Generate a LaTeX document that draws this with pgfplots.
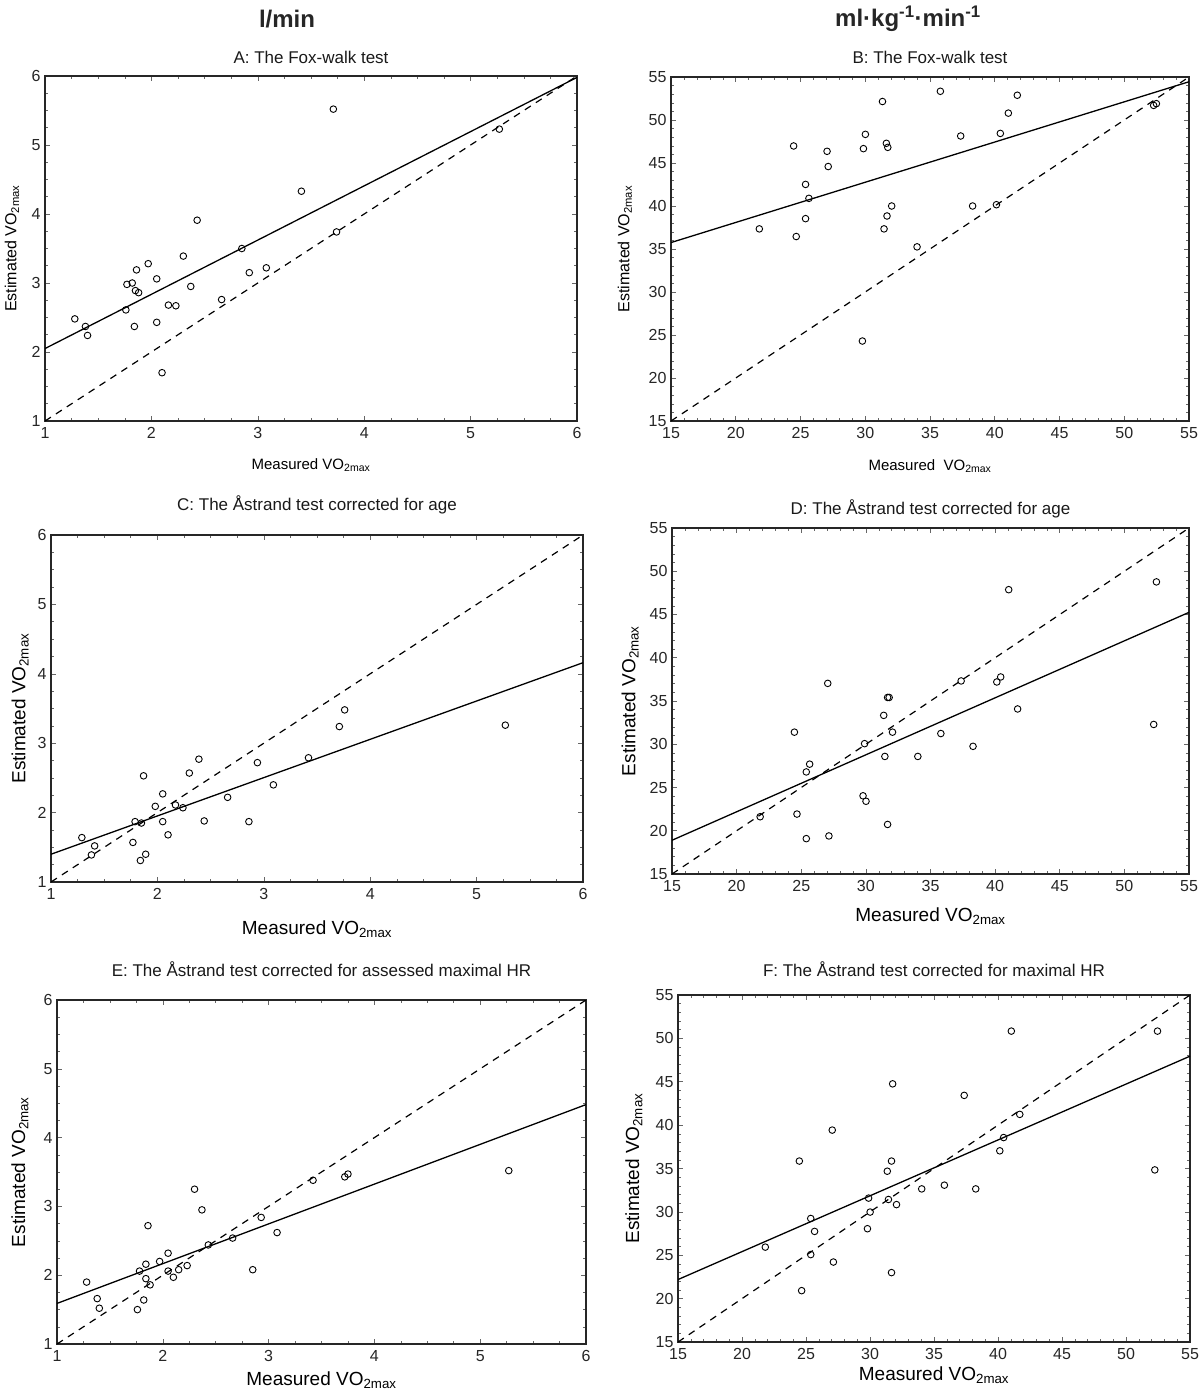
\documentclass[border=0pt]{standalone}
\usepackage{fontspec}
\setmainfont{Liberation Sans}
\usepackage{pgfplots}
\pgfplotsset{compat=1.18}
\pgfplotsset{
  base/.style={
    scale only axis,
    axis line style={line width=1.2pt, black!85},
    tick align=inside,
    major tick length=5pt,
    minor tick length=3pt,
    tick style={black!60, line width=0.6pt},
    tick label style={font=\fontsize{16}{18}\selectfont, text=black!85},
    xticklabel style={yshift=-3pt},
    yticklabel style={xshift=-1pt},
    /pgf/number format/assume math mode=true,
    title style={font=\fontsize{17}{20}\selectfont, text=black!90},
    ylabel style={anchor=center},
    xlabel style={anchor=center},
    clip=true,
  },
  lmin/.style={base, xmin=1,xmax=6,ymin=1,ymax=6, xtick={1,...,6}, ytick={1,...,6}, minor tick num=3},
  mlkg/.style={base, xmin=15,xmax=55,ymin=15,ymax=55, xtick={15,20,...,55}, ytick={15,20,...,55}, minor tick num=4},
  pts/.style={only marks, mark=o, mark size=3.3pt, mark options={line width=0.9pt, black}},
  reg/.style={black, line width=1.3pt, no marks},
  ident/.style={black, line width=1.2pt, dash pattern=on 7pt off 6pt, no marks},
}
\begin{document}
\begin{tikzpicture}
\path[use as bounding box] (0pt,0pt) rectangle (1200pt,-1390pt);
\node[font=\bfseries\fontsize{24}{28}\selectfont, text=black!85] at (287pt,-19pt) {l/min};
\node[font=\bfseries\fontsize{24}{28}\selectfont, text=black!85] at (908pt,-19pt) {ml·kg\textsuperscript{-1}·min\textsuperscript{-1}};

% A
\begin{axis}[lmin, at={(45pt,-76pt)}, anchor=north west, width=532pt, height=345pt,
  title={A: The Fox-walk test}, title style={at={(axis description cs:0.5,1.009)}},
  xlabel={Measured VO\textsubscript{2max}}, xlabel style={at={(axis description cs:0.5,-0.1275)}, font=\fontsize{15}{18}\selectfont},
  ylabel={Estimated VO\textsubscript{2max}}, ylabel style={at={(axis description cs:-0.062,0.5)}, font=\fontsize{16}{18}\selectfont}]
\addplot[ident] coordinates {(1,1) (6,6)};
\addplot[reg] coordinates {(1,2.05) (6,5.98)};
\addplot[pts] coordinates {(1.28,2.48) (1.38,2.37) (1.40,2.24) (1.76,2.61) (1.77,2.98) (1.82,3.00) (1.86,3.19) (1.85,2.89) (1.88,2.86) (1.84,2.37) (1.97,3.28) (2.05,3.06) (2.05,2.43) (2.10,1.70) (2.16,2.68) (2.23,2.67) (2.30,3.39) (2.37,2.95) (2.43,3.91) (2.66,2.76) (2.85,3.50) (2.92,3.15) (3.08,3.22) (3.41,4.33) (3.71,5.52) (3.74,3.74) (5.27,5.23)};
\end{axis}

% B
\begin{axis}[mlkg, at={(671pt,-77pt)}, anchor=north west, width=518pt, height=344pt,
  title={B: The Fox-walk test}, title style={at={(axis description cs:0.5,1.012)}},
  xlabel={Measured\ \ VO\textsubscript{2max}}, xlabel style={at={(axis description cs:0.5,-0.131)}, font=\fontsize{15}{18}\selectfont},
  ylabel={Estimated VO\textsubscript{2max}}, ylabel style={at={(axis description cs:-0.089,0.5)}, font=\fontsize{16}{18}\selectfont}]
\addplot[ident] coordinates {(15,15) (55,55)};
\addplot[reg] coordinates {(15,35.75) (55,54.45)};
\addplot[pts] coordinates {(21.82,37.34) (24.47,46.98) (24.67,36.45) (25.39,42.51) (25.65,40.89) (25.39,38.53) (27.05,46.36) (27.14,44.59) (29.86,46.67) (30.01,48.33) (29.78,24.30) (31.33,52.15) (31.63,47.29) (31.74,46.82) (31.68,38.84) (31.45,37.34) (32.04,40.0) (34.0,35.25) (35.8,53.34) (37.37,48.14) (38.29,40.0) (40.13,40.15) (40.43,48.44) (41.05,50.80) (41.74,52.88) (52.27,51.7) (52.48,51.9)};
\end{axis}

% C
\begin{axis}[lmin, at={(51pt,-535pt)}, anchor=north west, width=532pt, height=347pt,
  title={C: The Åstrand test corrected for age}, title style={at={(axis description cs:0.5,1.032)}},
  xlabel={Measured VO\textsubscript{2max}}, xlabel style={at={(axis description cs:0.5,-0.135)}, font=\fontsize{19}{22}\selectfont},
  ylabel={Estimated VO\textsubscript{2max}}, ylabel style={at={(axis description cs:-0.058,0.5)}, font=\fontsize{19}{22}\selectfont}]
\addplot[ident] coordinates {(1,1) (6,6)};
\addplot[reg] coordinates {(1,1.40) (6,4.16)};
\addplot[pts] coordinates {(1.29,1.64) (1.38,1.39) (1.41,1.52) (1.77,1.57) (1.79,1.87) (1.84,1.31) (1.85,1.85) (1.87,2.53) (1.89,1.40) (1.98,2.09) (2.05,1.87) (2.05,2.27) (2.10,1.68) (2.17,2.11) (2.24,2.07) (2.30,2.57) (2.39,2.77) (2.44,1.88) (2.66,2.22) (2.86,1.87) (2.94,2.72) (3.09,2.40) (3.42,2.79) (3.71,3.24) (3.76,3.48) (5.27,3.26)};
\end{axis}

% D
\begin{axis}[mlkg, at={(672pt,-528pt)}, anchor=north west, width=517pt, height=346pt,
  title={D: The Åstrand test corrected for age}, title style={at={(axis description cs:0.5,1.0)}},
  xlabel={Measured VO\textsubscript{2max}}, xlabel style={at={(axis description cs:0.5,-0.121)}, font=\fontsize{19}{22}\selectfont},
  ylabel={Estimated VO\textsubscript{2max}}, ylabel style={at={(axis description cs:-0.081,0.5)}, font=\fontsize{19}{22}\selectfont}]
\addplot[ident] coordinates {(15,15) (55,55)};
\addplot[reg] coordinates {(15,18.9) (55,45.25)};
\addplot[pts] coordinates {(21.82,21.62) (24.47,31.40) (24.67,21.93) (25.39,26.80) (25.65,27.70) (25.39,19.09) (27.05,37.04) (27.14,19.40) (29.78,24.04) (29.90,30.07) (30.01,23.41) (31.38,33.34) (31.47,28.59) (31.68,35.41) (31.80,35.41) (31.68,20.73) (32.06,31.40) (34.02,28.59) (35.80,31.24) (37.37,37.32) (38.29,29.76) (40.13,37.20) (40.43,37.78) (41.05,47.87) (41.74,34.08) (52.27,32.29) (52.48,48.77)};
\end{axis}

% E
\begin{axis}[lmin, at={(57pt,-1000pt)}, anchor=north west, width=529pt, height=344pt,
  title={E: The Åstrand test corrected for assessed maximal HR}, title style={at={(axis description cs:0.5,1.041)}},
  xlabel={Measured VO\textsubscript{2max}}, xlabel style={at={(axis description cs:0.5,-0.105)}, font=\fontsize{19}{22}\selectfont},
  ylabel={Estimated VO\textsubscript{2max}}, ylabel style={at={(axis description cs:-0.07,0.5)}, font=\fontsize{19}{22}\selectfont}]
\addplot[ident] coordinates {(1,1) (6,6)};
\addplot[reg] coordinates {(1,1.59) (6,4.48)};
\addplot[pts] coordinates {(1.28,1.90) (1.38,1.66) (1.40,1.52) (1.76,1.50) (1.78,2.06) (1.82,1.64) (1.84,2.16) (1.84,1.95) (1.86,2.72) (1.88,1.86) (1.97,2.20) (2.05,2.32) (2.05,2.06) (2.10,1.97) (2.15,2.08) (2.23,2.14) (2.30,3.25) (2.37,2.95) (2.43,2.44) (2.66,2.54) (2.85,2.08) (2.93,2.84) (3.08,2.62) (3.42,3.38) (3.72,3.43) (3.75,3.47) (5.27,3.52)};
\end{axis}

% F
\begin{axis}[mlkg, at={(678pt,-995pt)}, anchor=north west, width=512pt, height=347pt,
  title={F: The Åstrand test corrected for maximal HR}, title style={at={(axis description cs:0.5,1.026)}},
  xlabel={Measured VO\textsubscript{2max}}, xlabel style={at={(axis description cs:0.5,-0.095)}, font=\fontsize{19}{22}\selectfont},
  ylabel={Estimated VO\textsubscript{2max}}, ylabel style={at={(axis description cs:-0.086,0.5)}, font=\fontsize{19}{22}\selectfont}]
\addplot[ident] coordinates {(15,15) (55,55)};
\addplot[reg] coordinates {(15,22.2) (55,47.95)};
\addplot[pts] coordinates {(21.82,25.94) (24.48,35.86) (24.66,20.92) (25.37,29.24) (25.37,25.08) (25.67,27.75) (27.05,39.43) (27.14,24.22) (29.80,28.06) (29.89,31.59) (30.01,29.98) (31.35,34.69) (31.44,31.43) (31.68,35.86) (31.77,44.76) (31.68,23.00) (32.07,30.84) (34.04,32.65) (35.81,33.08) (37.36,43.43) (38.26,32.65) (40.14,37.04) (40.44,38.57) (41.04,50.84) (41.70,41.24) (52.25,34.84) (52.46,50.84)};
\end{axis}
\end{tikzpicture}
\end{document}
